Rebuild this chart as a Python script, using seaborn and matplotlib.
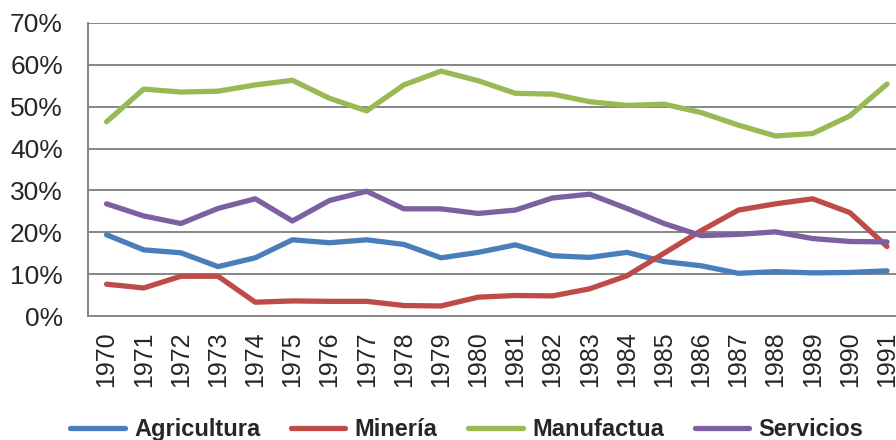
import matplotlib
matplotlib.use("Agg")
import matplotlib.pyplot as plt
from matplotlib.ticker import PercentFormatter, MultipleLocator
import seaborn as sns
import pandas as pd
import numpy as np

# data (share of total, in %)
years = list(range(1970, 1992))
agricultura = [19.4, 15.8, 15.1, 11.8, 13.9, 18.2, 17.5, 18.2, 17.1, 13.9, 15.2,
               17.0, 14.4, 14.0, 15.2, 13.0, 12.0, 10.2, 10.6, 10.3, 10.4, 10.8]
mineria = [7.6, 6.7, 9.5, 9.5, 3.3, 3.6, 3.5, 3.5, 2.5, 2.4, 4.5,
           4.9, 4.8, 6.5, 9.6, 15.0, 20.4, 25.3, 26.8, 28.0, 24.7, 16.6]
manufactura = [46.4, 54.2, 53.5, 53.7, 55.2, 56.3, 52.0, 49.0, 55.2, 58.5, 56.2,
               53.2, 53.0, 51.2, 50.3, 50.6, 48.6, 45.6, 43.0, 43.6, 47.8, 55.4]
servicios = [26.8, 23.9, 22.1, 25.7, 28.0, 22.7, 27.6, 29.8, 25.6, 25.6, 24.5,
             25.3, 28.2, 29.1, 25.7, 22.1, 19.2, 19.5, 20.1, 18.5, 17.8, 17.7]
sectores = ["Agricultura", "Minería", "Manufactua", "Servicios"]
colores = ["#4A7EBB", "#BE4B48", "#98B954", "#7D60A0"]

df = pd.DataFrame({"year": years, "Agricultura": agricultura, "Minería": mineria,
                   "Manufactua": manufactura, "Servicios": servicios})
long = df.melt(id_vars="year", var_name="sector", value_name="share")
long["share"] = long["share"] / 100

sns.set_style("white")
plt.rcParams["font.family"] = ["Liberation Sans", "DejaVu Sans"]

fig = plt.figure(figsize=(8.96, 4.4), dpi=100)
ax = fig.add_axes([0.0982, 0.2818, 0.9125, 0.666])

grey = "#868686"
ax.yaxis.grid(True, color=grey, lw=1.4, zorder=0)
ax.set_axisbelow(True)

sns.lineplot(data=long, x="year", y="share", hue="sector", hue_order=sectores,
             palette=colores, lw=3.8, ax=ax, legend=False,
             solid_capstyle="round", solid_joinstyle="round")

ax.set_xlim(years[0] - 0.5, years[-1] + 0.5)
ax.set_ylim(0, 0.7)
ax.yaxis.set_major_locator(MultipleLocator(0.1))
ax.yaxis.set_major_formatter(PercentFormatter(1.0, decimals=0))
ax.set_xticks(years)
ax.set_xticklabels([str(y) for y in years], rotation=90)
ax.set_xticks(np.arange(years[0] - 0.5, years[-1] + 1.0, 1.0), minor=True)
ax.tick_params(axis="x", which="major", length=0, pad=11, labelsize=18)
ax.tick_params(axis="x", which="minor", length=6, width=1.4, color=grey)
ax.tick_params(axis="y", length=6, width=1.4, color=grey, pad=12, labelsize=19)
ax.set_xlabel("")
ax.set_ylabel("")

for s in ["top", "right"]:
    ax.spines[s].set_visible(False)
for s in ["left", "bottom"]:
    ax.spines[s].set_color(grey)
    ax.spines[s].set_linewidth(1.4)

handles = [plt.Line2D([], [], color=c, lw=3.8, solid_capstyle="round") for c in colores]
fig.legend(handles, sectores, loc="center", bbox_to_anchor=(0.521, 0.024), ncol=4,
           frameon=False, handlelength=2.3, handletextpad=0.4, columnspacing=1.3,
           borderpad=0, prop={"weight": "bold", "size": 17})

fig.savefig("out.png", dpi=100)
